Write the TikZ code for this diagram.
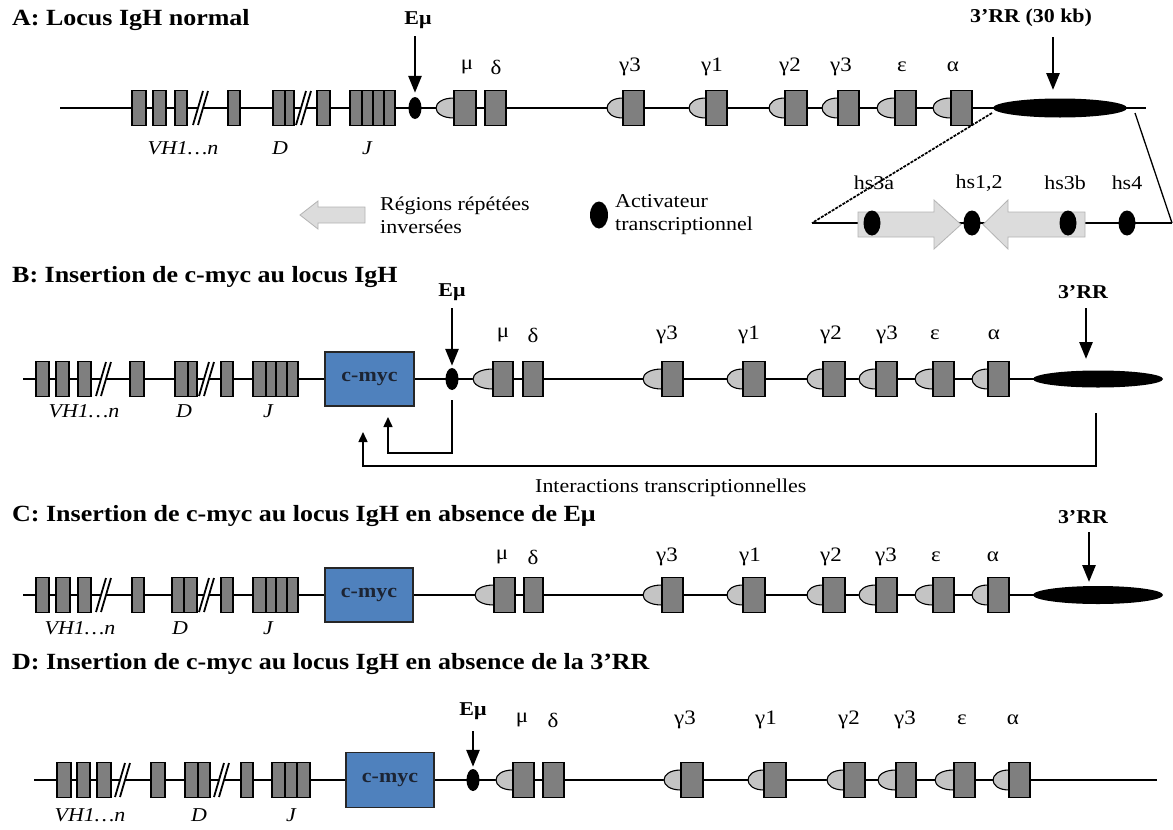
\documentclass[tikz,border=0pt]{standalone}
\usepackage{fontspec}
\setmainfont{Liberation Serif}[FakeStretch=1.12]
\usetikzlibrary{shapes.geometric,arrows.meta}
\definecolor{boxgray}{HTML}{7F7F7F}
\definecolor{semigray}{HTML}{C4C4C4}
\definecolor{mycblue}{HTML}{4F81BD}
\definecolor{arrgray}{HTML}{DCDCDC}
\definecolor{arredge}{HTML}{B4B4B4}
\definecolor{myctext}{HTML}{1C2433}
\newcommand\GBox[3]{\draw[gbox] ({#1},{#3-17.5}) rectangle ({#2},{#3+17.5});}
\newcommand\GSemi[3]{\draw[gsemi] ({#2},{#3-10}) .. controls ({#2-1.33*(#2-#1)},{#3-10}) and ({#2-1.33*(#2-#1)},{#3+10}) .. ({#2},{#3+10}) -- cycle;}
\newcommand\Brk[2]{%
  \fill[white] ({#1+3.6},{#2+4.5}) -- ({#1+8.6},{#2+4.5}) -- ({#1+11.4},{#2-4.5}) -- ({#1+6.4},{#2-4.5}) -- cycle;
  \draw[brk] ({#1},{#2+17}) -- ({#1+10},{#2-17});
  \draw[brk] ({#1+5},{#2+17}) -- ({#1+15},{#2-17});}
\tikzset{
  dna/.style={line width=2.2pt},
  gbox/.style={draw=black, line width=1.1pt, fill=boxgray},
  gsemi/.style={draw=black, line width=1.1pt, fill=semigray},
  brk/.style={line width=1.8pt},
  edot/.style={ellipse, fill=black, inner sep=0pt, minimum width=13pt, minimum height=22pt},
  hdot/.style={ellipse, fill=black, inner sep=0pt, minimum width=17pt, minimum height=25pt},
  rrell/.style={ellipse, fill=black, inner sep=0pt},
  myc/.style={draw=black!85, line width=1.1pt, fill=mycblue, inner sep=0pt, font=\bfseries\fontsize{19.6}{22}\selectfont, text=myctext},
  ttl/.style={anchor=west, inner sep=0pt, font=\bfseries\fontsize{23.2}{26}\selectfont},
  glab/.style={inner sep=0pt, font=\fontsize{20.5}{23}\selectfont},
  hlab/.style={inner sep=0pt, font=\fontsize{19.6}{22}\selectfont},
  blab/.style={inner sep=0pt, font=\bfseries\fontsize{19.6}{22}\selectfont},
  ilab/.style={inner sep=0pt, font=\itshape\fontsize{19.6}{22}\selectfont},
  txt/.style={inner sep=0pt, anchor=west, align=left, font=\fontsize{19.6}{23}\selectfont},
  bigarr/.style={line width=2.8pt, -{Triangle[length=17pt,width=13pt]}},
  fbarr/.style={line width=1.5pt, -{Triangle[length=10pt,width=9pt]}},
  blockarr/.style={draw=arredge, line width=0.8pt, fill=arrgray},
}
\begin{document}
\begin{tikzpicture}[x=1pt,y=-1pt]
\useasboundingbox (0,0) rectangle (1173,830);
\fill[white] (0,0) rectangle (1173,830);

%================ PANEL A =================
\node[ttl] (tA) at (12,20) {A: Locus IgH normal};
\draw[dna] (60,108) -- (1146,108);
\foreach \a/\b in {132/146,153/166,175/187,228/240,273/285,285/294,317/330,350/362,362/373,373/384,384/395}{\GBox{\a}{\b}{108}}
\Brk{193}{108}
\Brk{296}{108}
\foreach \a/\b in {436/454,607/623,689/706,769/785,822/838,877/895,933/951}{\GSemi{\a}{\b}{108}}
\foreach \a/\b in {454/476,485/506,623/644,706/727,785/807,838/859,895/916,951/972}{\GBox{\a}{\b}{108}}
\foreach \x/\t [count=\i] in {467/μ,496/δ,630/γ3,712/γ1,790/γ2,841/γ3,902/ε,953/α}{\node[glab] (gA\i) at (\x,67) {\t};}
\node[ilab] (vA) at (183,148) {VH1…n};
\node[ilab] (dA) at (280,148) {D};
\node[ilab] (jA) at (367,148) {J};
\node[edot] (eA) at (415,108) {};
\node[blab] (lEA) at (418,20) {Eμ};
\coordinate (aEA) at (415,36);
\draw[bigarr, shorten >=4pt] (aEA) -- (eA.north);
\node[rrell, minimum width=134pt, minimum height=19pt] (rrA) at (1060,108) {};
\node[blab] (lRA) at (1031,18) {3’RR (30 kb)};
\coordinate (aRA1) at (1053,37);
\coordinate (aRA2) at (1053,90);
\draw[bigarr] (aRA1) -- (aRA2);
% zoom of 3'RR
\coordinate (zL1) at (992,113);
\coordinate (zL2) at (812,223);
\coordinate (zR1) at (1135,113);
\coordinate (zR2) at (1172,223);
\draw[line width=1.7pt, dash pattern=on 3pt off 1.2pt] (zL1) -- (zL2);
\draw[line width=1.3pt] (zR1) -- (zR2);
\draw[line width=1.7pt] (zL2) -- (zR2);
\draw[blockarr] (858,212) -- (934,212) -- (934,200) -- (961,224.5) -- (934,249) -- (934,237) -- (858,237) -- cycle;
\draw[blockarr] (1085,212) -- (1008,212) -- (1008,200) -- (983,224.5) -- (1008,249) -- (1008,237) -- (1085,237) -- cycle;
\node[hdot] (h1) at (872,223) {};
\node[hdot] (h2) at (972,223) {};
\node[hdot] (h3) at (1068,223) {};
\node[hdot] (h4) at (1127,223) {};
\node[hlab] (lh1) at (874,183) {hs3a};
\node[hlab] (lh2) at (979,183) {hs1,2};
\node[hlab] (lh3) at (1065,183) {hs3b};
\node[hlab] (lh4) at (1127,183) {hs4};
% legend
\draw[blockarr] (300,215) -- (318,201) -- (318,207) -- (365,207) -- (365,223) -- (318,223) -- (318,229) -- cycle;
\node[txt] (legR) at (380,215) {Régions répétées\\inversées};
\node[edot, minimum width=18pt, minimum height=27pt] (legD) at (599,215) {};
\node[txt] (legA) at (615,215) {Activateur\\transcriptionnel};

%================ PANEL B =================
\node[ttl] (tB) at (12,277) {B: Insertion de c-myc au locus IgH};
\draw[dna] (23,379) -- (1150,379);
\foreach \a/\b in {36/49,56/69,78/91,130/144,175/188,188/197,221/233,253/266,266/276,276/287,287/298}{\GBox{\a}{\b}{379}}
\Brk{96}{379}
\Brk{199}{379}
\node[myc, minimum width=89pt, minimum height=54pt] (mycB) at (369.5,379) {c-myc};
\foreach \a/\b in {473/493,643/662,727/743,807/823,859/876,915/933,972/988}{\GSemi{\a}{\b}{379}}
\foreach \a/\b in {493/513,523/543,662/683,743/765,823/845,876/897,933/954,988/1009}{\GBox{\a}{\b}{379}}
\foreach \x/\t [count=\i] in {503/μ,533/δ,667/γ3,749/γ1,831/γ2,887/γ3,935/ε,994/α}{\node[glab] (gB\i) at (\x,335) {\t};}
\node[ilab] (vB) at (84,411) {VH1…n};
\node[ilab] (dB) at (184,411) {D};
\node[ilab] (jB) at (268,411) {J};
\node[edot] (eB) at (452,379) {};
\node[blab] (lEB) at (452,292) {Eμ};
\coordinate (aEB) at (452,308);
\draw[bigarr, shorten >=2pt] (aEB) -- (eB.north);
\node[rrell, minimum width=130pt, minimum height=17pt] (rrB) at (1098,379) {};
\node[blab] (lRB) at (1083,292) {3’RR};
\coordinate (aRB1) at (1086,308);
\coordinate (aRB2) at (1086,359);
\draw[bigarr] (aRB1) -- (aRB2);
% interactions
\coordinate (fa1) at (452,400);
\coordinate (fa2) at (388,453);
\coordinate (fa3) at (388,417);
\draw[fbarr] (fa1) |- (fa2) -- (fa3);
\coordinate (fb1) at (1096,413);
\coordinate (fb2) at (363,466);
\coordinate (fb3) at (363,432);
\draw[fbarr] (fb1) |- (fb2) -- (fb3);
\node[txt] (lint) at (535,488) {Interactions transcriptionnelles};

%================ PANEL C =================
\node[ttl] (tC) at (12,516) {C: Insertion de c-myc au locus IgH en absence de Eμ};
\draw[dna] (23,595) -- (1150,595);
\foreach \a/\b in {36/49,56/70,78/91,132/144,172/184,184/197,221/233,253/266,266/276,276/287,287/298}{\GBox{\a}{\b}{595}}
\Brk{96}{595}
\Brk{199}{595}
\node[myc, minimum width=88pt, minimum height=54pt] (mycC) at (369,595) {c-myc};
\foreach \a/\b in {475/494,643/662,727/743,807/823,859/876,915/933,972/988}{\GSemi{\a}{\b}{595}}
\foreach \a/\b in {494/515,524/543,662/683,743/765,823/845,876/897,933/954,988/1009}{\GBox{\a}{\b}{595}}
\foreach \x/\t [count=\i] in {502/μ,533/δ,667/γ3,750/γ1,831/γ2,886/γ3,936/ε,993/α}{\node[glab] (gC\i) at (\x,557) {\t};}
\node[ilab] (vC) at (80,628) {VH1…n};
\node[ilab] (dC) at (180,628) {D};
\node[ilab] (jC) at (268,628) {J};
\node[rrell, minimum width=130pt, minimum height=18pt] (rrC) at (1098,595) {};
\node[blab] (lRC) at (1083,517) {3’RR};
\coordinate (aRC1) at (1089,532);
\coordinate (aRC2) at (1089,582);
\draw[bigarr] (aRC1) -- (aRC2);

%================ PANEL D =================
\node[ttl] (tD) at (12,664) {D: Insertion de c-myc au locus IgH en absence de la 3’RR};
\draw[dna] (34,780) -- (1157,780);
\foreach \a/\b in {57/71,77/90,97/111,151/165,185/198,198/210,241/253,272/285,285/297,297/310}{\GBox{\a}{\b}{780}}
\Brk{115}{780}
\Brk{214}{780}
\node[myc, minimum width=88pt, minimum height=55pt] (mycD) at (390,780) {c-myc};
\foreach \a/\b in {496/513,664/681,748/764,827/844,878/896,935/954,993/1009}{\GSemi{\a}{\b}{780}}
\foreach \a/\b in {513/534,543/564,681/703,764/786,844/865,896/916,954/975,1009/1030}{\GBox{\a}{\b}{780}}
\foreach \x/\t [count=\i] in {522/μ,553/δ,685/γ3,766/γ1,849/γ2,905/γ3,962/ε,1013/α}{\node[glab] (gD\i) at (\x,720) {\t};}
\node[ilab] (vD) at (90,815) {VH1…n};
\node[ilab] (dD) at (199,815) {D};
\node[ilab] (jD) at (291,815) {J};
\node[edot] (eD) at (473,780) {};
\node[blab] (lED) at (473,711) {Eμ};
\coordinate (aED) at (473,731);
\draw[bigarr, shorten >=2pt] (aED) -- (eD.north);
\end{tikzpicture}
\end{document}
